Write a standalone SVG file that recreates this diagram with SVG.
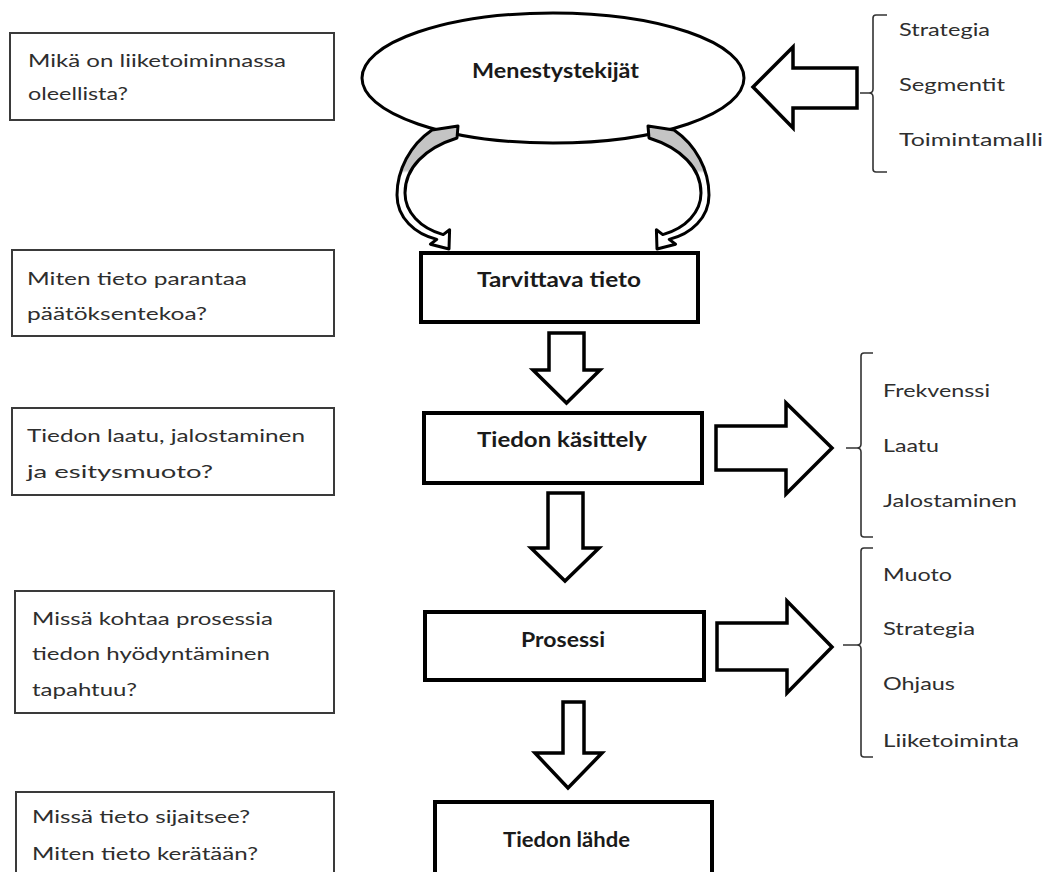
<svg xmlns="http://www.w3.org/2000/svg" width="1053" height="872" viewBox="0 0 1053 872">
  <defs>
    <style>
      .q { fill: #ffffff; stroke: #3a3a3a; stroke-width: 2; }
      .qt { font-family: Lato, "Liberation Sans", sans-serif; font-size: 18px; fill: #2e2e2e; }
      .box { fill: #ffffff; stroke: #000000; stroke-width: 4; }
      .bt { font-family: Lato, "Liberation Sans", sans-serif; font-size: 20px; font-weight: bold; fill: #1a1a1a; }
      .blk { fill: #ffffff; stroke: #000000; stroke-width: 3.5; stroke-linejoin: miter; }
      .brace { fill: none; stroke: #333333; stroke-width: 1.6; }
      .lt { font-family: Lato, "Liberation Sans", sans-serif; font-size: 18px; fill: #2e2e2e; }
      .curve { stroke: #000000; stroke-width: 3; stroke-linejoin: round; }
    </style>
    <linearGradient id="curveFill" gradientUnits="userSpaceOnUse" x1="0" y1="125" x2="0" y2="200">
      <stop offset="0" stop-color="#c4c4c4"/>
      <stop offset="0.6" stop-color="#c4c4c4"/>
      <stop offset="0.64" stop-color="#ffffff"/>
      <stop offset="1" stop-color="#ffffff"/>
    </linearGradient>
    <!-- curved arrow from the ellipse down to the box (left-hand version) -->
    <path id="curvedArrow" class="curve" fill="url(#curveFill)"
      d="M 432 130 C 410 145 397 170 397 195 C 397 218 415 234 436.8 239.4
         L 430.4 244.2 L 449 249 L 449.6 229.8 L 443.2 234.6
         C 420 228 405 212 405 193 C 405 168 425 148 457 138 L 458 126 Z"/>
  </defs>

  <rect width="1053" height="872" fill="#ffffff"/>

  <!-- question boxes on the left -->
  <g id="q1">
    <rect class="q" x="10" y="33" width="324" height="87"/>
    <text class="qt" x="28" y="67" textLength="258" lengthAdjust="spacingAndGlyphs">Mikä on liiketoiminnassa</text>
    <text class="qt" x="28" y="100" textLength="100" lengthAdjust="spacingAndGlyphs">oleellista?</text>
  </g>
  <g id="q2">
    <rect class="q" x="12" y="250" width="322" height="86"/>
    <text class="qt" x="27" y="285" textLength="220" lengthAdjust="spacingAndGlyphs">Miten tieto parantaa</text>
    <text class="qt" x="27" y="320" textLength="180" lengthAdjust="spacingAndGlyphs">päätöksentekoa?</text>
  </g>
  <g id="q3">
    <rect class="q" x="12" y="408" width="322" height="87"/>
    <text class="qt" x="27" y="442" textLength="278" lengthAdjust="spacingAndGlyphs">Tiedon laatu, jalostaminen</text>
    <text class="qt" x="27" y="478" textLength="186" lengthAdjust="spacingAndGlyphs">ja esitysmuoto?</text>
  </g>
  <g id="q4">
    <rect class="q" x="15" y="591" width="319" height="122"/>
    <text class="qt" x="32" y="625" textLength="241" lengthAdjust="spacingAndGlyphs">Missä kohtaa prosessia</text>
    <text class="qt" x="32" y="660" textLength="238" lengthAdjust="spacingAndGlyphs">tiedon hyödyntäminen</text>
    <text class="qt" x="32" y="696" textLength="105" lengthAdjust="spacingAndGlyphs">tapahtuu?</text>
  </g>
  <g id="q5">
    <rect class="q" x="16" y="792" width="318" height="100"/>
    <text class="qt" x="32" y="823" textLength="218" lengthAdjust="spacingAndGlyphs">Missä tieto sijaitsee?</text>
    <text class="qt" x="32" y="860" textLength="226" lengthAdjust="spacingAndGlyphs">Miten tieto kerätään?</text>
  </g>

  <!-- central flow -->
  <g id="menestystekijat">
    <ellipse cx="553" cy="78" rx="191" ry="65" fill="#ffffff" stroke="#000000" stroke-width="3"/>
    <text class="bt" x="472" y="78" textLength="167" lengthAdjust="spacingAndGlyphs">Menestystekijät</text>
  </g>
  <g id="tarvittava">
    <rect class="box" x="421" y="253" width="277" height="69"/>
    <text class="bt" x="477" y="287" textLength="164" lengthAdjust="spacingAndGlyphs">Tarvittava tieto</text>
  </g>
  <g id="kasittely">
    <rect class="box" x="424" y="413" width="278" height="70"/>
    <text class="bt" x="477" y="447" textLength="170" lengthAdjust="spacingAndGlyphs">Tiedon käsittely</text>
  </g>
  <g id="prosessi">
    <rect class="box" x="425" y="612" width="279" height="68"/>
    <text class="bt" x="521" y="647" textLength="84" lengthAdjust="spacingAndGlyphs">Prosessi</text>
  </g>
  <g id="lahde">
    <rect class="box" x="435" y="802" width="277" height="90"/>
    <text class="bt" x="503" y="847" textLength="127" lengthAdjust="spacingAndGlyphs">Tiedon lähde</text>
  </g>

  <!-- attribute lists on the right -->
  <g id="list1">
    <path class="brace" d="M 887 15 H 876 Q 873 15 873 18 V 89 Q 873 93 869 93 H 860 M 869 93 Q 873 93 873 97 V 169 Q 873 172 876 172 H 887"/>
    <text class="lt" x="899" y="36" textLength="91" lengthAdjust="spacingAndGlyphs">Strategia</text>
    <text class="lt" x="899" y="91" textLength="106" lengthAdjust="spacingAndGlyphs">Segmentit</text>
    <text class="lt" x="899" y="146" textLength="144" lengthAdjust="spacingAndGlyphs">Toimintamalli</text>
  </g>
  <g id="list2">
    <path class="brace" d="M 873 353 H 864 Q 861 353 861 356 V 444 Q 861 448 857 448 H 846 M 857 448 Q 861 448 861 452 V 534 Q 861 537 864 537 H 873"/>
    <text class="lt" x="883" y="397" textLength="107" lengthAdjust="spacingAndGlyphs">Frekvenssi</text>
    <text class="lt" x="883" y="452" textLength="56" lengthAdjust="spacingAndGlyphs">Laatu</text>
    <text class="lt" x="883" y="507" textLength="134" lengthAdjust="spacingAndGlyphs">Jalostaminen</text>
  </g>
  <g id="list3">
    <path class="brace" d="M 873 548 H 864 Q 861 548 861 551 V 641 Q 861 645 857 645 H 843 M 857 645 Q 861 645 861 649 V 754 Q 861 757 864 757 H 873"/>
    <text class="lt" x="883" y="581" textLength="69" lengthAdjust="spacingAndGlyphs">Muoto</text>
    <text class="lt" x="883" y="635" textLength="92" lengthAdjust="spacingAndGlyphs">Strategia</text>
    <text class="lt" x="883" y="690" textLength="72" lengthAdjust="spacingAndGlyphs">Ohjaus</text>
    <text class="lt" x="883" y="747" textLength="136" lengthAdjust="spacingAndGlyphs">Liiketoiminta</text>
  </g>

  <!-- connectors: block arrows and curved arrows -->
  <g id="connectors">
    <use href="#curvedArrow"/>
    <use href="#curvedArrow" transform="translate(1106,0) scale(-1,1)"/>
    <polygon class="blk" points="857,68 793,68 793,47 753,87 793,128 793,108 857,108"/>
    <polygon class="blk" points="549,333 584,333 584,370 600,370 566.5,403 533,370 549,370"/>
    <polygon class="blk" points="548,493 583,493 583,548 599,548 565,581 531,548 548,548"/>
    <polygon class="blk" points="563,702 584,702 584,753 602,753 568,788 535,753 563,753"/>
    <polygon class="blk" points="716,426 786,426 786,403 832,448 786,494 786,470 716,470"/>
    <polygon class="blk" points="717,623 787,623 787,601 832,647 787,693 787,670 717,670"/>
  </g>
</svg>
